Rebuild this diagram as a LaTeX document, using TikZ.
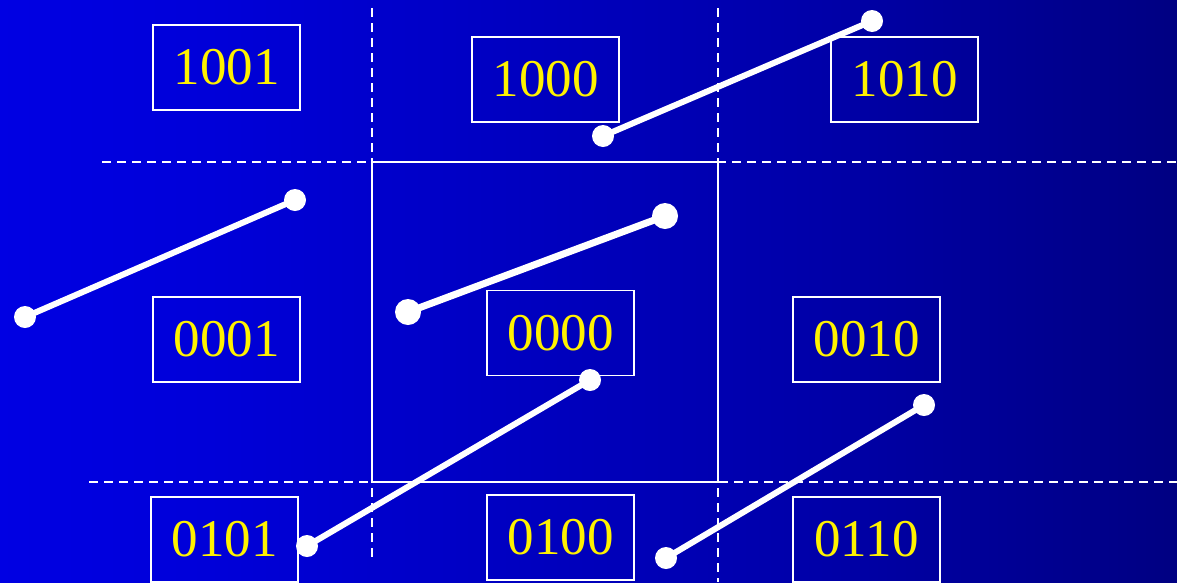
\documentclass[tikz,border=0pt]{standalone}
\usepackage{fontspec}
\setmainfont{Liberation Serif}
\pgfdeclarehorizontalshading{bgshade}{100bp}{rgb(0bp)=(0,0,1); rgb(34bp)=(0,0,0.85); rgb(60bp)=(0,0,0.66); rgb(78bp)=(0,0,0.48); rgb(100bp)=(0,0,0.24)}
\tikzset{
  codebox/.style={draw=white, line width=1.6pt, minimum width=147pt, minimum height=85pt, inner sep=0pt, text=yellow, font=\fontsize{53}{60}\selectfont},
  endpt/.style={circle, fill=white, inner sep=0pt, minimum size=#1},
  endpt/.default=22pt,
  seg/.style={white, line width=6pt},
  grid/.style={white, line width=1.5pt, dash pattern=on 9pt off 6pt},
}
\begin{document}
\begin{tikzpicture}[x=1pt,y=-1pt]
\shade[shading=bgshade] (0,0) rectangle (1177,582);
\useasboundingbox (0,0) rectangle (1177,582);
% grid
\draw[grid] (372,8) -- (372,558);
\draw[grid] (718,8) -- (718,582);
\draw[grid] (102,162) -- (1177,162);
\draw[grid] (89,482) -- (1177,482);
\draw[white, line width=1.5pt] (372,162) rectangle (718,482);
% boxes
\node[codebox] (b1001) at (226.5,67.5) {1001};
\node[codebox] (b1000) at (545.5,79.5) {1000};
\node[codebox] (b1010) at (904.5,79.5) {1010};
\node[codebox] (b0001) at (226.5,339.5) {0001};
\node[codebox] (b0000) at (560.5,333) {0000};
\node[codebox] (b0010) at (866.5,339.5) {0010};
\node[codebox] (b0101) at (224.5,539.5) {0101};
\node[codebox] (b0100) at (560.5,537.5) {0100};
\node[codebox] (b0110) at (866.5,539.5) {0110};
% segments
\node[endpt] (a1) at (603,136) {};
\node[endpt] (a2) at (872,21) {};
\node[endpt] (c1) at (25,317) {};
\node[endpt] (c2) at (295,200) {};
\node[endpt=26pt] (d1) at (408,312) {};
\node[endpt=26pt] (d2) at (665,216) {};
\node[endpt] (e1) at (307,546) {};
\node[endpt] (e2) at (590,380) {};
\node[endpt] (f1) at (666,558) {};
\node[endpt] (f2) at (924,405) {};
\draw[seg] (a1.center) -- (a2.center);
\draw[seg] (c1.center) -- (c2.center);
\draw[seg, line width=7pt] (d1.center) -- (d2.center);
\draw[seg] (e1.center) -- (e2.center);
\draw[seg] (f1.center) -- (f2.center);
\end{tikzpicture}
\end{document}
